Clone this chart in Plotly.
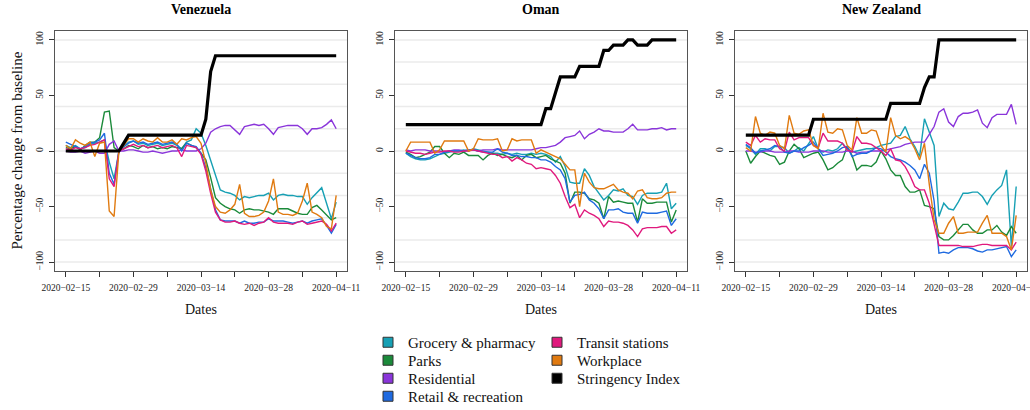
import plotly.graph_objects as go
import pandas as pd

# ---------------- data ----------------
dates = pd.date_range("2020-02-15", "2020-04-11", freq="D").strftime("%Y-%m-%d").tolist()
countries = ["Venezuela", "Oman", "New Zealand"]
categories = ["Grocery & pharmacy", "Parks", "Residential", "Retail & recreation",
              "Transit stations", "Workplace", "Stringency Index"]
tick_dates = ["2020-02-15", "2020-02-29", "2020-03-14", "2020-03-28", "2020-04-11"]
minor_tick_dates = ["2020-02-22", "2020-03-07", "2020-03-21", "2020-04-04"]
tick_text = [d.replace("-", "\u2212") for d in tick_dates]
y_ticks = [-100, -50, 0, 50, 100]
grid_levels = [-100, -80, -60, -40, -20, 0, 20, 40, 60, 80, 100]

# Venezuela
ven_grocery = [5, 3, 5, 2, 3, 6, 7, 8, 10, -10, -25, 0, 4, 8, 9, 6, 7, 5, 6, 7, 5, 6, 7, 5, 2, 8, 10, 20, 16, 5,
               -8, -22, -35, -37, -38, -40, -44, -41, -42, -41, -40, -40, -38, -44, -40, -39, -40, -40, -41, -41,
               -48, -42, -37, -33, -47, -61, -46]
ven_parks = [3, 2, 4, 1, 5, 8, 8, 12, 35, 36, 3, 0, 2, 5, 4, 2, 5, 3, 4, 2, 3, 2, 4, 3, 2, 7, 5, 3, -2, -8,
             -24, -42, -47, -50, -52, -53, -56, -53, -52, -53, -53, -54, -55, -57, -52, -52, -52, -54, -56, -57,
             -57, -51, -49, -53, -58, -62, -60]
ven_residential = [0, -1, -1, 0, -2, -1, 0, -2, -2, 6, 9, 0, 0, 1, 1, 0, -1, -1, 0, -1, -2, -1, 0, 0, 1, 0, 0, 0,
                   2, 7, 17, 20, 22, 23, 23, 19, 15, 22, 23, 24, 23, 24, 20, 15, 21, 22, 23, 23, 23, 20, 15, 20,
                   20, 21, 24, 28, 20]
ven_retail = [8, 6, 4, 2, 4, 7, 8, 10, 16, -20, -30, 0, 4, 7, 9, 7, 8, 6, 7, 8, 6, 7, 8, 6, 0, 7, 5, 4, -2, -15,
              -35, -53, -62, -63, -63, -63, -65, -63, -65, -65, -64, -64, -61, -63, -63, -63, -64, -65, -64, -63,
              -65, -63, -62, -61, -67, -74, -66]
ven_transit = [2, 1, 3, 2, 3, 5, 6, 8, 10, -25, -32, 0, 2, 4, 6, 4, 5, 3, 4, 5, 3, 4, 5, 3, -5, 5, 4, 3, -3, -18,
               -38, -55, -62, -64, -64, -63, -65, -66, -65, -67, -65, -64, -60, -64, -65, -65, -65, -66, -64, -63,
               -66, -65, -64, -63, -66, -72, -65]
ven_workplace = [5, 2, 10, 7, 5, 8, -5, 7, 8, -54, -59, 0, 5, 11, 11, 8, 11, 9, 8, 12, 8, 8, 10, 6, 11, 10, 12,
                 13, 7, -11, -35, -50, -55, -56, -53, -48, -30, -56, -59, -59, -58, -55, -45, -25, -55, -57, -57,
                 -58, -56, -45, -29, -55, -57, -60, -68, -70, -40]
ven_stringency = [0] * 12 + [7.14] + [14.29] * 16 + [28.57, 71.43] + [85.71] * 26

# Oman
omn_grocery = [-2, -5, -7, -8, -8, -7, -5, -3, -2, -1, 0, 0, 1, 0, 2, 1, 0, -1, -2, -2, -3, -2, -3, -2, -3, -3,
               -2, -3, -2, -3, -5, -10, -5, -14, -28, -29, -29, -16, -22, -32, -38, -44, -40, -35, -36, -34, -40,
               -41, -48, -40, -38, -38, -38, -37, -29, -52, -47]
omn_parks = [-1, -3, -6, -5, -3, -1, 4, 4, -2, -6, -2, -3, -1, -4, -4, -4, -8, -4, -2, -4, -3, -5, -6, -4, -8,
             -4, -3, -6, -5, -4, -7, -9, -11, -20, -47, -37, -37, -38, -43, -44, -47, -61, -41, -46, -45, -46,
             -47, -47, -64, -43, -47, -47, -46, -46, -46, -64, -53]
omn_residential = [1, 0, 1, 1, 1, 0, 0, 0, -1, 0, 1, 1, 0, 1, 1, 0, 1, 1, 1, 2, 1, 1, 1, 1, 1, 1, 1, 2, 3, 3, 4,
                   5, 8, 12, 13, 14, 18, 11, 15, 17, 20, 18, 18, 17, 17, 17, 20, 24, 19, 19, 19, 20, 20, 21, 19,
                   20, 20]
omn_retail = [-2, -4, -6, -7, -7, -6, -3, -3, -1, 0, 0, 0, 0, 1, 1, 0, -1, -1, -1, 2, -1, -2, -4, -4, -5, -5, -6,
              -6, -8, -8, -10, -14, -17, -25, -46, -40, -39, -37, -44, -47, -52, -61, -53, -53, -52, -55, -56,
              -56, -65, -55, -56, -56, -56, -55, -54, -67, -61]
omn_transit = [0, -1, -2, -2, -3, -2, -1, -1, 0, 0, -1, -1, 0, 0, 1, 0, -1, -2, -3, -3, -6, -5, -9, -6, -8, -11,
               -12, -16, -15, -16, -17, -22, -29, -41, -51, -48, -60, -53, -56, -58, -61, -68, -63, -64, -64, -65,
               -67, -71, -77, -70, -69, -69, -69, -68, -68, -74, -71]
omn_workplace = [0, 8, 8, 8, 8, 8, -2, 1, 9, 9, 9, 9, 9, 0, 2, 11, 10, 10, 10, 11, 0, 1, 11, 9, 10, 10, 10, -2,
                 1, -1, -3, -5, -7, -12, -17, -17, -50, -20, -28, -33, -34, -34, -32, -30, -35, -37, -38, -43, -36,
                 -35, -42, -43, -43, -42, -38, -37, -37]
omn_stringency = ([23.81] * 29 + [38.1, 38.1, 52.38] + [66.67] * 4 + [76.19] * 5 + [90.48] * 2 + [95.24] * 3
                  + [100] * 2 + [95.24] * 3 + [100] * 6)

# New Zealand
nzl_grocery = [5, 2, -3, 2, 2, 0, 4, 4, 3, -2, 0, 3, 0, 6, 13, 2, -1, 1, 0, 2, 7, 2, -1, 0, 1, 2, 2, 3, 5, 6, 7,
               13, 14, 22, 11, 4, -5, 29, 16, 5, -59, -47, -52, -53, -46, -38, -38, -37, -37, -41, -48, -40, -35,
               -31, -17, -86, -32]
nzl_parks = [0, -11, -5, 0, -2, -4, -5, -12, -10, 0, 6, 2, -6, -4, -2, -1, -8, -17, -15, -11, -8, 4, -4, -17,
             -13, -13, -14, -10, 0, -7, -17, -22, -22, -32, -37, -37, -35, -49, -50, -52, -77, -80, -80, -76, -71,
             -66, -66, -71, -74, -74, -71, -71, -67, -73, -76, -68, -74]
nzl_residential = [0, 0, -1, -1, 0, 0, -1, -1, -1, 0, 0, -1, -1, -1, 0, 0, 0, -1, -1, -1, -1, 0, 0, -2, -1, -1,
                   0, 0, 0, 1, 2, 3, 4, 6, 7, 8, 8, 8, 15, 22, 35, 38, 26, 22, 31, 34, 34, 35, 37, 25, 21, 30, 33,
                   33, 33, 42, 24]
nzl_retail = [6, 3, -2, 0, 1, 2, 5, 4, -1, -2, 0, 0, 3, 5, 8, 2, -4, -3, -2, 0, 3, 4, -5, -3, -2, -2, 0, 3, 2,
              -1, -5, -7, -8, -10, -13, -17, -25, -12, -20, -45, -92, -91, -92, -89, -87, -87, -87, -88, -90, -91,
              -89, -89, -88, -87, -86, -95, -89]
nzl_transit = [8, 5, 14, 8, 11, 10, 10, 2, 0, 17, 10, 12, 12, 12, 5, 3, 16, 9, 9, 9, 7, 1, -1, 13, 7, 7, 6, 3,
               0, -4, 2, -8, -9, -14, -22, -32, -35, -35, -47, -66, -85, -85, -85, -85, -85, -86, -86, -86, -85,
               -84, -84, -85, -85, -85, -85, -89, -82]
nzl_workplace = [3, 0, 31, 16, 14, 17, 16, 5, 2, 32, 16, 15, 18, 19, 5, 2, 34, 17, 16, 20, 19, 5, 1, 30, 16, 16,
                 19, 18, 5, -1, 30, 14, 11, 13, 10, 2, -8, 7, -30, -62, -74, -74, -65, -59, -74, -74, -73, -73,
                 -73, -65, -58, -74, -74, -74, -77, -89, -58]
nzl_stringency = [14.29] * 14 + [28.57] * 16 + [42.86] * 7 + [57.14, 66.67, 66.67] + [100] * 17

# ---------------- styling ----------------
colors = ["#17A0B4", "#1B8A3A", "#8A35DA", "#1F6AE0", "#E0197D", "#E07A10", "#000000"]
serif = "Liberation Serif"
W, H = 1030, 410

series = {
    "Venezuela": [ven_grocery, ven_parks, ven_residential, ven_retail, ven_transit, ven_workplace, ven_stringency],
    "Oman": [omn_grocery, omn_parks, omn_residential, omn_retail, omn_transit, omn_workplace, omn_stringency],
    "New Zealand": [nzl_grocery, nzl_parks, nzl_residential, nzl_retail, nzl_transit, nzl_workplace, nzl_stringency],
}

panel_px = [(55, 347), (395, 687), (735, 1027)]
y_top_px, y_bot_px = 31, 271
ydom = [1 - y_bot_px / H, 1 - y_top_px / H]

fig = go.Figure()
layout_axes = {}
annotations = []
shapes = []

x_range = ["2020-02-12 18:15", "2020-04-13 05:45"]

for pi, country in enumerate(countries):
    sfx = "" if pi == 0 else str(pi + 1)
    xa, ya = "x" + sfx, "y" + sfx
    for ci, cat in enumerate(categories):
        vals = series[country][ci]
        fig.add_trace(go.Scatter(
            x=dates, y=vals, mode="lines", name=cat,
            line=dict(color=colors[ci], width=3.2 if ci == 6 else 1.4),
            xaxis=xa, yaxis=ya, showlegend=False, hoverinfo="skip"))
    l, r = panel_px[pi]
    layout_axes["xaxis" + sfx] = dict(
        domain=[l / W, r / W], anchor=ya, type="date", range=x_range,
        tickvals=tick_dates, ticktext=tick_text, ticks="outside", ticklen=5, tickwidth=1,
        tickcolor="#333", showline=True, linecolor="#555", linewidth=1, mirror=True,
        minor=dict(tickvals=minor_tick_dates, ticks="outside", ticklen=5, tickwidth=1,
                   tickcolor="#333", showgrid=False),
        showgrid=False, zeroline=False, ticklabelstandoff=3, automargin=False,
        ticklabeloverflow="allow",
        tickfont=dict(family=serif, size=9.5, color="#222"))
    layout_axes["yaxis" + sfx] = dict(
        domain=ydom, anchor=xa, range=[-108, 108], tickvals=y_ticks, tickangle=-90,
        ticks="outside", ticklen=5, tickwidth=1, tickcolor="#333", showline=True,
        linecolor="#555", linewidth=1, mirror=True, showgrid=False, zeroline=False,
        ticklabelstandoff=2, automargin=False, tickfont=dict(family=serif, size=9.5, color="#222"))
    for g in grid_levels:
        shapes.append(dict(type="line", xref=xa + " domain", yref=ya, x0=0, x1=1, y0=g, y1=g,
                           line=dict(color="#ebebeb", width=1.5), layer="below"))
    cx = (l + r) / 2 / W
    annotations.append(dict(text="<b>" + country + "</b>", x=cx, y=1 - 9.5 / H, xref="paper", yref="paper",
                            xanchor="center", yanchor="middle", showarrow=False,
                            font=dict(family=serif, size=14, color="#000")))
    annotations.append(dict(text="Dates", x=cx, y=1 - 309.5 / H, xref="paper", yref="paper",
                            xanchor="center", yanchor="middle", showarrow=False,
                            font=dict(family=serif, size=14, color="#111")))

annotations.append(dict(text="Percentage change from baseline", x=16.5 / W, y=1 - 151 / H, xref="paper",
                        yref="paper", xanchor="center", yanchor="middle", textangle=-90, showarrow=False,
                        font=dict(family=serif, size=15, color="#111")))

# legend entries (square keys), one legend box per entry so the grid matches
legend_pos = [(368, 342.5), (368, 360.5), (368, 378.5), (368, 396.5),
              (537, 342.5), (537, 360.5), (537, 378.5)]
legends = {}
for ci, cat in enumerate(categories):
    lkey = "legend" if ci == 0 else "legend" + str(ci + 1)
    fig.add_trace(go.Scatter(
        x=[None], y=[None], mode="markers", name=cat, legend=lkey, showlegend=True,
        marker=dict(symbol="square", size=10, color=colors[ci], line=dict(color="#333", width=1)),
        xaxis="x", yaxis="y", hoverinfo="skip"))
    lx, ly = legend_pos[ci]
    legends[lkey] = dict(x=lx / W, y=1 - ly / H, xanchor="left", yanchor="middle",
                         xref="paper", yref="paper", bgcolor="rgba(0,0,0,0)", borderwidth=0,
                         font=dict(family=serif, size=15, color="#111"))

fig.update_layout(
    width=W, height=H, margin=dict(l=0, r=0, t=0, b=0, pad=0, autoexpand=False),
    paper_bgcolor="white", plot_bgcolor="white",
    annotations=annotations, shapes=shapes, **layout_axes, **legends,
)

fig.write_html("out.html")
